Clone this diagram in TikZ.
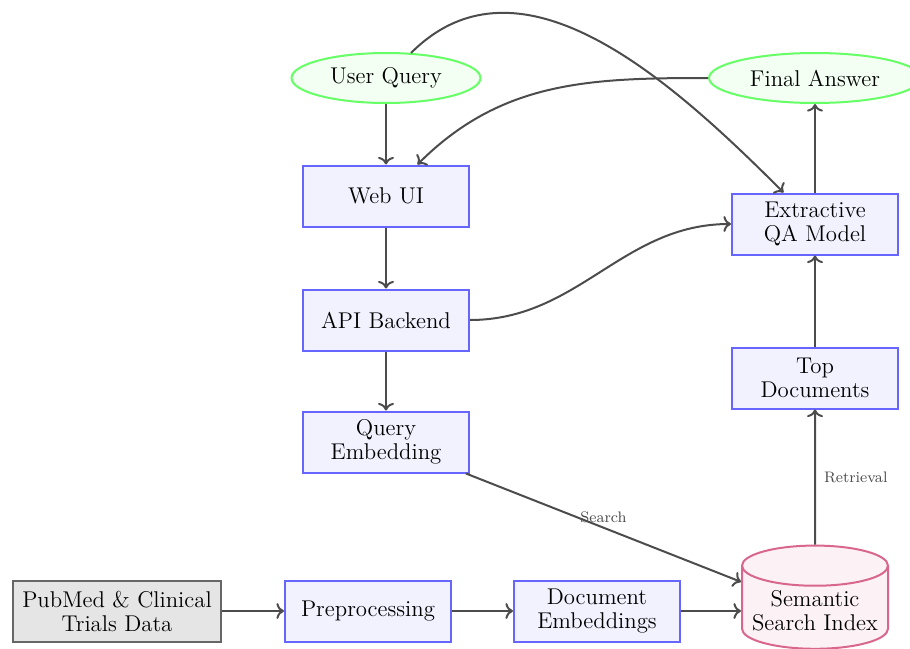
\documentclass[tikz,border=0pt]{standalone}
\usetikzlibrary{shapes.geometric,arrows.meta}
\begin{document}
\begin{tikzpicture}[x=0.5pt,y=0.5pt,
 every node/.style={font=\fontsize{11.4}{12}\selectfont},
 box/.style={draw=blue!60, fill=blue!5, line width=1pt, minimum width=83pt, minimum height=30.5pt, align=center, inner sep=2pt},
 term/.style={ellipse, draw=green!60, fill=green!5, line width=1pt, minimum height=25pt, inner sep=1pt},
 src/.style={draw=black!60, fill=gray!20, line width=1pt, minimum height=30.5pt, align=center, inner xsep=4.5pt},
 db/.style={cylinder, shape border rotate=90, aspect=0.3, draw=purple!60, fill=purple!5, line width=1pt, align=center, minimum width=73pt, minimum height=51pt, inner sep=2pt},
 arr/.style={->, line width=1pt, draw=black!70},
 lbl/.style={font=\fontsize{7.6}{9}\selectfont, text=black!70}]
\useasboundingbox (0,0) rectangle (910,-648);
\node[term, minimum width=94.5pt] (uq) at (386,-78) {User Query};
\node[term, minimum width=106pt] (fa) at (815,-78) {Final Answer};
\node[box] (web) at (386,-196) {Web UI};
\node[box] (api) at (386,-320) {API Backend};
\node[box] (qe) at (386,-442) {Query\\Embedding};
\node[box] (qa) at (815,-224) {Extractive\\QA Model};
\node[box] (top) at (815,-378) {Top\\Documents};
\node[db] (idx) at (815,-611) {Semantic\\Search Index};
\node[src] (pub) at (117,-611) {PubMed \& Clinical\\Trials Data};
\node[box] (pre) at (368,-611) {Preprocessing};
\node[box] (de) at (597,-611) {Document\\Embeddings};
\draw[arr] (uq) -- (web);
\draw[arr] (web) -- (api);
\draw[arr] (api) -- (qe);
\draw[arr] (qe) -- node[lbl, midway, above, inner sep=2pt] {Search} (idx);
\draw[arr] (idx) -- node[lbl, midway, right, inner sep=4pt] {Retrieval} (top);
\draw[arr] (top) -- (qa);
\draw[arr] (qa) -- (fa);
\draw[arr] (api.east) to[out=0,in=180] (qa.west);
\draw[arr] (uq) to[out=45,in=135] (qa);
\draw[arr] (fa) to[out=180,in=45] (web);
\draw[arr] (pub) -- (pre);
\draw[arr] (pre) -- (de);
\draw[arr] (de) -- (idx);
\end{tikzpicture}
\end{document}
